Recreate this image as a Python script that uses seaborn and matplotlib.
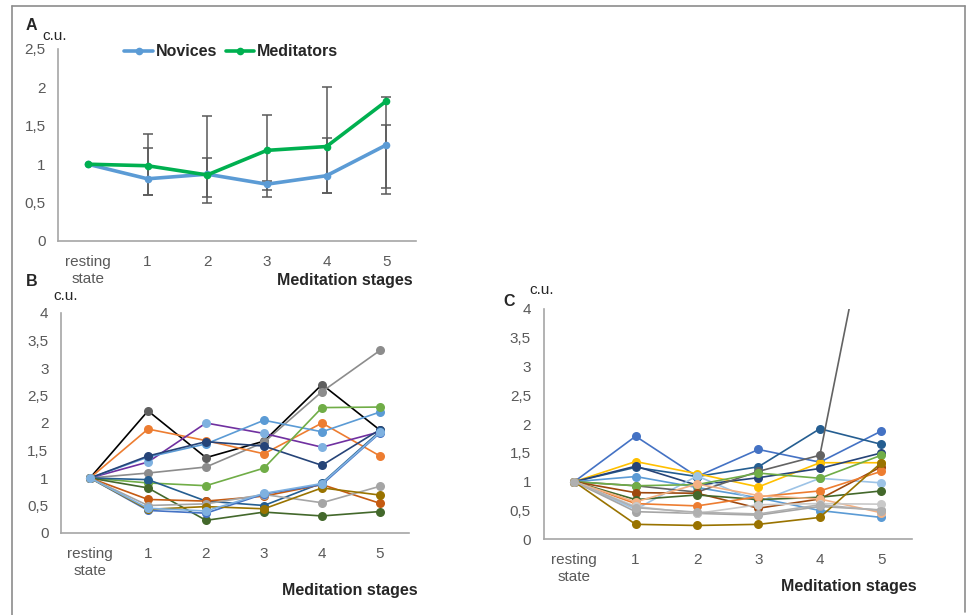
import numpy as np
import pandas as pd
import matplotlib
matplotlib.use("Agg")
import matplotlib.pyplot as plt
import seaborn as sns

sns.set_style("white")
plt.rcParams['font.family'] = ['Liberation Sans', 'DejaVu Sans']

# categories
stages = [0, 1, 2, 3, 4, 5]
stage_labels = ["resting\nstate", "1", "2", "3", "4", "5"]

# panel A: group means and error bar ends
novices = [1, 0.81, 0.87, 0.74, 0.85, 1.25]
novices_hi = [1, 1.215, 1.085, 0.78, 1.34, 1.51]
novices_lo = [1, 0.60, 0.575, 0.67, 0.62, 0.61]
meditators = [1, 0.98, 0.86, 1.18, 1.23, 1.82]
meditators_hi = [1, 1.39, 1.63, 1.64, 2.00, 1.88]
meditators_lo = [1, 0.60, 0.49, 0.575, 0.62, 0.69]

# panel B: individual subjects (line colour, marker colour, values)
b_lines = ["#000000", "#8c8c8c", "#ed7d31", "#7030a0", "#5b9bd5", "#264478", "#70ad47",
           "#255e91", "#43682b", "#c55a11", "#a5a5a5", "#4472c4", "#997300", "#7fb1e0"]
b_marks = ["#5f5f5f", "#8c8c8c", "#ed7d31", "#7fb1e0", "#5b9bd5", "#264478", "#70ad47",
           "#255e91", "#43682b", "#c55a11", "#a5a5a5", "#4472c4", "#997300", "#7fb1e0"]
b_values = [
    [1, 2.22, 1.37, 1.67, 2.70, 1.87],
    [1, 1.09, 1.20, 1.65, 2.57, 3.32],
    [1, 1.89, 1.68, 1.44, 2.00, 1.40],
    [1, 1.29, 2.00, 1.81, 1.56, 1.84],
    [1, 1.38, 1.62, 2.05, 1.84, 2.20],
    [1, 1.40, 1.66, 1.58, 1.23, 1.88],
    [1, 0.91, 0.86, 1.18, 2.28, 2.29],
    [1, 0.97, 0.58, 0.50, 0.91, 1.85],
    [1, 0.82, 0.23, 0.38, 0.31, 0.39],
    [1, 0.61, 0.58, 0.67, 0.88, 0.54],
    [1, 0.50, 0.53, 0.70, 0.55, 0.85],
    [1, 0.41, 0.36, 0.71, 0.88, 1.82],
    [1, 0.43, 0.48, 0.44, 0.82, 0.69],
    [1, 0.45, 0.40, 0.72, 0.90, 1.83],
]

# panel C: individual subjects
c_colors = ["#4472c4", "#255e91", "#ffc000", "#264478", "#5b9bd5", "#9dc3e6", "#636363",
            "#70ad47", "#9e480e", "#43682b", "#ed7d31", "#f4b183", "#a5a5a5", "#c9c9c9",
            "#997300", "#b0b0b0"]
c_values = [
    [1, 1.79, 1.09, 1.56, 1.34, 1.88],
    [1, 1.25, 1.09, 1.26, 1.92, 1.65],
    [1, 1.35, 1.14, 0.91, 1.33, 1.33],
    [1, 1.27, 0.94, 1.07, 1.23, 1.50],
    [1, 1.09, 0.90, 0.72, 0.50, 0.38],
    [1, 0.52, 1.10, 0.65, 1.06, 0.98],
    [1, 0.93, 0.82, 1.18, 1.46, 6.80],
    [1, 0.93, 0.95, 1.15, 1.06, 1.46],
    [1, 0.81, 0.80, 0.54, 0.70, 1.26],
    [1, 0.69, 0.77, 0.69, 0.73, 0.84],
    [1, 0.62, 0.58, 0.74, 0.84, 1.18],
    [1, 0.65, 0.96, 0.76, 0.70, 0.46],
    [1, 0.48, 0.45, 0.42, 0.57, 0.51],
    [1, 0.57, 0.45, 0.60, 0.62, 0.61],
    [1, 0.26, 0.24, 0.26, 0.38, 1.33],
    [1, 0.55, 0.47, 0.44, 0.60, 0.50],
]

W, H = 966, 615
fig = plt.figure(figsize=(W / 100, H / 100), dpi=100)

def px_axes(x0, y0, x1, y1):
    return fig.add_axes([x0 / W, 1 - y1 / H, (x1 - x0) / W, (y1 - y0) / H])

tick_col = "#595959"
spine_col = "#a6a6a6"

def style(ax, ymax, step):
    ax.set_xlim(-0.5, 5.5)
    ax.set_ylim(0, ymax)
    ticks = np.arange(0, ymax + 0.001, step)
    ax.set_yticks(ticks)
    ax.set_yticklabels([("%g" % t).replace(".", ",") for t in ticks])
    ax.set_xticks(stages)
    ax.set_xticklabels(stage_labels, linespacing=1.25)
    ax.tick_params(length=0, labelsize=11, colors=tick_col)
    ax.tick_params(axis="x", pad=10)
    ax.tick_params(axis="y", pad=9)
    for s in ["top", "right"]:
        ax.spines[s].set_visible(False)
    for s in ["left", "bottom"]:
        ax.spines[s].set_color(spine_col)
        ax.spines[s].set_linewidth(1.2)
    ax.set_xlabel("")
    ax.set_ylabel("")
    ax.patch.set_alpha(0)

# ---- A ----
axA = px_axes(58, 49, 416, 241)
dfA = pd.DataFrame({"stage": stages * 2,
                    "value": novices + meditators,
                    "group": ["Novices"] * 6 + ["Meditators"] * 6})
for x, m, lo, hi in list(zip(stages, novices, novices_lo, novices_hi))[1:]:
    axA.errorbar(x, m, yerr=[[m - lo], [hi - m]], color="#595959", lw=1.1, capsize=3.5, capthick=1.1)
for x, m, lo, hi in list(zip(stages, meditators, meditators_lo, meditators_hi))[1:]:
    axA.errorbar(x, m, yerr=[[m - lo], [hi - m]], color="#595959", lw=1.1, capsize=3.5, capthick=1.1)
sns.lineplot(data=dfA, x="stage", y="value", hue="group",
             palette={"Novices": "#5b9bd5", "Meditators": "#00b050"},
             marker="o", markersize=5.5, markeredgewidth=0, linewidth=2.6, ax=axA)
style(axA, 2.5, 0.5)
leg = axA.legend(loc="upper left", bbox_to_anchor=(0.145, 1.10), ncol=2, frameon=False,
                 handlelength=1.8, handletextpad=0.15, columnspacing=0.55,
                 prop={"weight": "bold", "size": 11.5})
fig.text(26 / W, 1 - 26 / H, "A", fontsize=11.5, fontweight="bold", va="center", ha="left")
fig.text(42 / W, 1 - 36 / H, "c.u.", fontsize=11, va="center", ha="left")
fig.text(413 / W, 1 - 281 / H, "Meditation stages", fontsize=11.5, fontweight="bold",
         va="center", ha="right")

# ---- B ----
axB = px_axes(61, 313, 409, 533)
for lc, mc, vals in zip(b_lines, b_marks, b_values):
    sns.lineplot(x=stages, y=vals, color=lc, marker="o", markersize=6.5,
                 markeredgewidth=0, markerfacecolor=mc, linewidth=1.2, ax=axB)
style(axB, 4, 0.5)
fig.text(26 / W, 1 - 282 / H, "B", fontsize=11.5, fontweight="bold", va="center", ha="left")
fig.text(53 / W, 1 - 296 / H, "c.u.", fontsize=11, va="center", ha="left")
fig.text(418 / W, 1 - 590 / H, "Meditation stages", fontsize=11.5, fontweight="bold",
         va="center", ha="right")

# ---- C ----
axC = px_axes(543.5, 309, 912, 539.3)
for col, vals in zip(c_colors, c_values):
    sns.lineplot(x=stages, y=vals, color=col, marker="o", markersize=6.5,
                 markeredgewidth=0, linewidth=1.2, ax=axC)
style(axC, 4, 0.5)
for ln in axC.lines:
    ln.set_clip_on(True)
fig.text(503 / W, 1 - 301 / H, "C", fontsize=11.5, fontweight="bold", va="center", ha="left")
fig.text(529 / W, 1 - 290 / H, "c.u.", fontsize=11, va="center", ha="left")
fig.text(917 / W, 1 - 586 / H, "Meditation stages", fontsize=11.5, fontweight="bold",
         va="center", ha="right")

# frame around the figure
border = dict(color="#8c8c8c", lw=1.2, transform=fig.transFigure)
fig.add_artist(plt.Line2D([12 / W, 12 / W], [0, 1 - 6 / H], **border))
fig.add_artist(plt.Line2D([12 / W, 965 / W], [1 - 6 / H, 1 - 6 / H], **border))
fig.add_artist(plt.Line2D([965 / W, 965 / W], [1 - 6 / H, 1 - 612 / H], **border))

fig.savefig("out.png", dpi=100)
